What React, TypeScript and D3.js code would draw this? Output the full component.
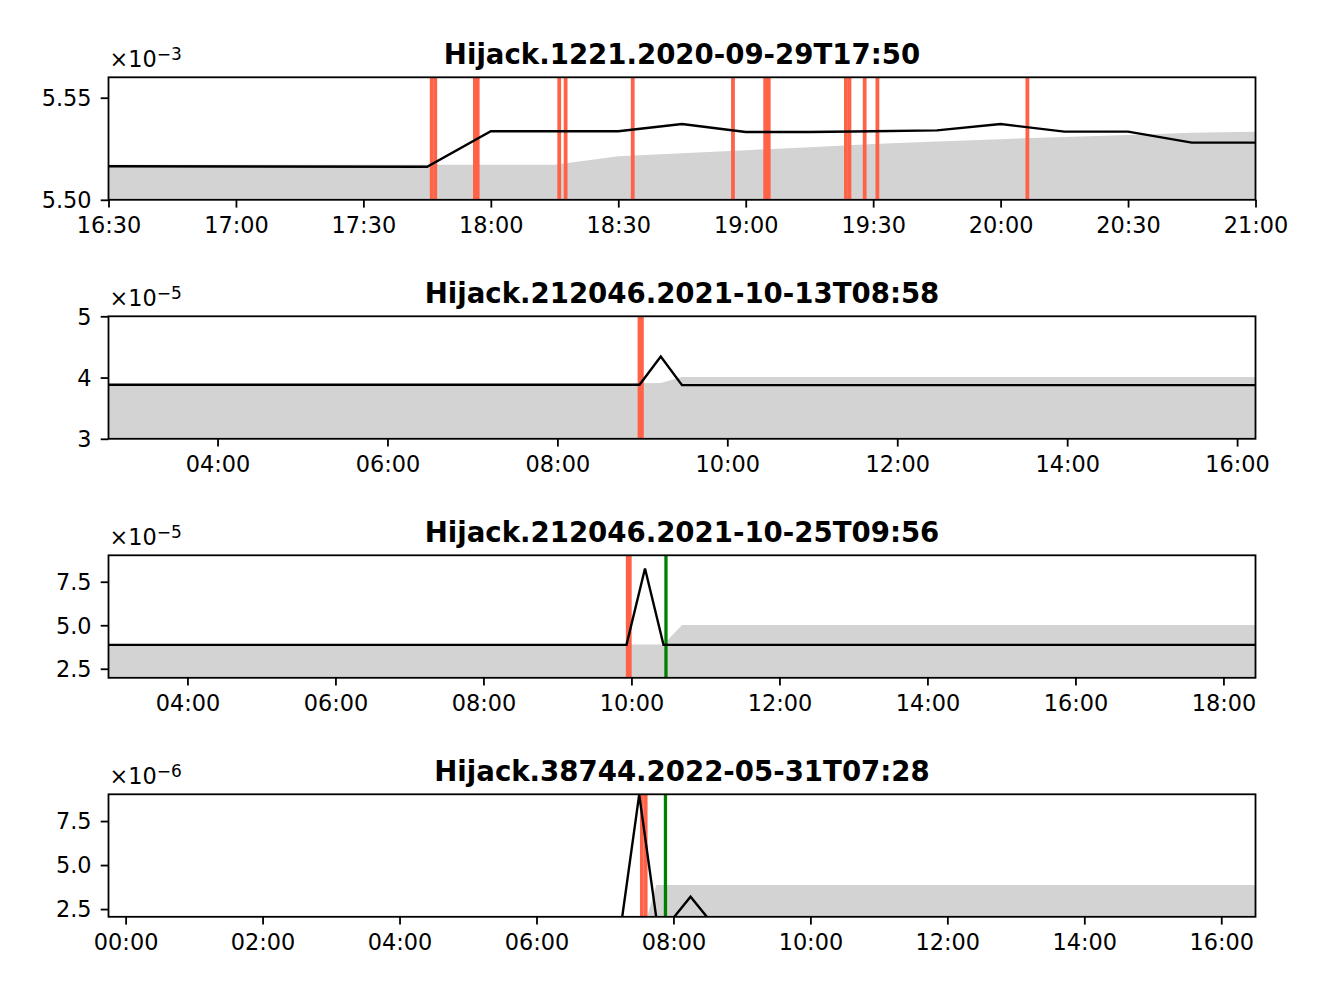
import * as d3 from "d3";
import { useEffect, useRef } from "react";

const W = 1329;
const H = 997;

// ---- panel 1 ----
const p1Title = "Hijack.1221.2020-09-29T17:50";
const p1Start = "2020-09-29T16:30";
const p1End = "21:00";
const p1YDomain = [5.5, 5.56];
const p1YTicks = [5.5, 5.55];
const p1YLabels = ["5.50", "5.55"];
const p1Exp = "−3";
const p1Line: [string, number][] = [
  ["16:30", 5.5164], ["17:45", 5.5162], ["18:00", 5.5336], ["18:30", 5.5336],
  ["18:45", 5.5371], ["19:00", 5.5332], ["19:15", 5.5332], ["19:30", 5.5336],
  ["19:45", 5.534], ["20:00", 5.5371], ["20:15", 5.5334], ["20:30", 5.5334],
  ["20:45", 5.528], ["21:00", 5.528],
];
const p1Band: [string, number][] = [
  ["16:30", 5.5172], ["18:15", 5.5172], ["18:30", 5.5213], ["18:45", 5.5228],
  ["19:00", 5.5243], ["19:15", 5.5258], ["19:30", 5.5273], ["19:45", 5.5286],
  ["20:00", 5.5297], ["20:15", 5.5308], ["20:30", 5.5318], ["20:45", 5.5328],
  ["21:00", 5.5333],
];
const p1Red = [
  "17:46:05", "17:46:55", "17:56:15", "17:56:55", "18:16:06", "18:17:36",
  "18:33:24", "18:57:00", "19:04:35", "19:05:25", "19:23:35", "19:24:25",
  "19:28:00", "19:31:00", "20:06:18",
];
const p1Green: string[] = [];

// ---- panel 2 ----
const p2Title = "Hijack.212046.2021-10-13T08:58";
const p2Start = "2021-10-13T02:43";
const p2End = "16:13";
const p2YDomain = [3, 5];
const p2YTicks = [3, 4, 5];
const p2YLabels = ["3", "4", "5"];
const p2Exp = "−5";
const p2Line: [string, number][] = [
  ["02:43", 3.882], ["08:58", 3.882], ["09:13", 4.345], ["09:28", 3.876], ["16:13", 3.876],
];
const p2Band: [string, number][] = [
  ["02:43", 3.875], ["08:43", 3.875], ["08:58", 3.905], ["09:13", 3.91],
  ["09:28", 4.01], ["16:13", 4.01],
];
const p2Red = ["08:58:00", "08:59:40"];
const p2Green: string[] = [];

// ---- panel 3 ----
const p3Title = "Hijack.212046.2021-10-25T09:56";
const p3Start = "2021-10-25T02:56";
const p3End = "18:26";
const p3YDomain = [1.98, 9.02];
const p3YTicks = [2.5, 5, 7.5];
const p3YLabels = ["2.5", "5.0", "7.5"];
const p3Exp = "−5";
const p3Line: [string, number][] = [
  ["02:56", 3.874], ["09:56", 3.874], ["10:11", 8.26], ["10:26", 3.874], ["18:26", 3.874],
];
const p3Band: [string, number][] = [
  ["02:56", 3.9], ["10:26", 3.9], ["10:41", 5.02], ["18:26", 5.02],
];
const p3Red = ["09:57:00", "09:58:40"];
const p3Green = ["10:28:00"];

// ---- panel 4 ----
const p4Title = "Hijack.38744.2022-05-31T07:28";
const p4Start = "2022-05-30T23:45";
const p4End = "16:30";
const p4YDomain = [2.06, 9.02];
const p4YTicks = [2.5, 5, 7.5];
const p4YLabels = ["2.5", "5.0", "7.5"];
const p4Exp = "−6";
const p4Line: [string, number][] = [
  ["23:45", 2.0], ["07:15", 2.0], ["07:30", 9.0], ["07:45", 2.0], ["08:00", 2.0],
  ["08:15", 3.2], ["08:30", 2.0], ["16:30", 2.0],
];
const p4Band: [string, number][] = [
  ["23:45", 0], ["07:15", 0], ["07:30", 0.5], ["07:45", 3.86], ["16:30", 3.86],
];
const p4Red = ["07:32:20", "07:35:40"];
const p4Green = ["07:53:00"];

const panels = [
  { title: p1Title, start: p1Start, end: p1End, yDomain: p1YDomain, yTicks: p1YTicks, yLabels: p1YLabels, exp: p1Exp, line: p1Line, band: p1Band, red: p1Red, green: p1Green, every: d3.utcMinute.every(30) },
  { title: p2Title, start: p2Start, end: p2End, yDomain: p2YDomain, yTicks: p2YTicks, yLabels: p2YLabels, exp: p2Exp, line: p2Line, band: p2Band, red: p2Red, green: p2Green, every: d3.utcHour.every(2) },
  { title: p3Title, start: p3Start, end: p3End, yDomain: p3YDomain, yTicks: p3YTicks, yLabels: p3YLabels, exp: p3Exp, line: p3Line, band: p3Band, red: p3Red, green: p3Green, every: d3.utcHour.every(2) },
  { title: p4Title, start: p4Start, end: p4End, yDomain: p4YDomain, yTicks: p4YTicks, yLabels: p4YLabels, exp: p4Exp, line: p4Line, band: p4Band, red: p4Red, green: p4Green, every: d3.utcHour.every(2) },
];

// times are given as time of day after the panel start; wrap past midnight
const toDate = (start: string, hm: string) => {
  const s = new Date(start + ":00Z");
  const hms = hm.length === 5 ? hm + ":00" : hm;
  let d = new Date(`${start.slice(0, 10)}T${hms}Z`);
  if (d < s) d = new Date(d.getTime() + 864e5);
  return d;
};

const FONT = "DejaVu Sans, sans-serif";

const App = () => {
  const svgRef = useRef<SVGSVGElement>(null);

  useEffect(() => {
    const svg = d3.select(svgRef.current);
    svg.selectAll("*").remove();

    const left = 108.5;
    const right = 1255.5;
    const top0 = 77.3;
    const step = 239;
    const h = 122.5;

    const defs = svg.append("defs");

    panels.forEach((p, i) => {
      const top = top0 + i * step;
      const g = svg.append("g").attr("transform", `translate(0, ${top})`);

      const x = d3
        .scaleUtc()
        .domain([toDate(p.start, p.start.slice(11)), toDate(p.start, p.end)])
        .range([left, right]);
      const y = d3.scaleLinear().domain(p.yDomain).range([h, 0]);

      defs
        .append("clipPath")
        .attr("id", `clip${i}`)
        .append("rect")
        .attr("x", left)
        .attr("y", 0)
        .attr("width", right - left)
        .attr("height", h);

      const plot = g.append("g").attr("clip-path", `url(#clip${i})`);

      // grey band under the threshold
      const area = d3
        .area<[string, number]>()
        .x((d) => x(toDate(p.start, d[0])))
        .y0(h)
        .y1((d) => y(d[1]));
      plot.append("path").datum(p.band).attr("d", area).attr("fill", "#d3d3d3");

      // red event lines
      plot
        .selectAll("line.red")
        .data(p.red)
        .enter()
        .append("line")
        .attr("class", "red")
        .attr("x1", (d) => x(toDate(p.start, d)))
        .attr("x2", (d) => x(toDate(p.start, d)))
        .attr("y1", 0)
        .attr("y2", h)
        .attr("stroke", "#ff6347")
        .attr("stroke-width", 3.8);

      // green line
      plot
        .selectAll("line.green")
        .data(p.green)
        .enter()
        .append("line")
        .attr("class", "green")
        .attr("x1", (d) => x(toDate(p.start, d)))
        .attr("x2", (d) => x(toDate(p.start, d)))
        .attr("y1", 0)
        .attr("y2", h)
        .attr("stroke", "#008000")
        .attr("stroke-width", 3.3);

      // black series
      const line = d3
        .line<[string, number]>()
        .x((d) => x(toDate(p.start, d[0])))
        .y((d) => y(d[1]));
      plot
        .append("path")
        .datum(p.line)
        .attr("d", line)
        .attr("fill", "none")
        .attr("stroke", "black")
        .attr("stroke-width", 2.4)
        .attr("stroke-linejoin", "miter");

      // x axis
      const xAxis = g
        .append("g")
        .attr("transform", `translate(0, ${h})`)
        .call(
          d3
            .axisBottom(x)
            .ticks(p.every)
            .tickFormat((d) => d3.utcFormat("%H:%M")(d as Date))
            .tickSize(7.8)
            .tickPadding(9.4)
        );
      xAxis.select(".domain").remove();
      xAxis.selectAll("line").attr("stroke-width", 1.8);
      xAxis.selectAll("text").attr("font-size", "22.4px").attr("font-family", FONT).attr("fill", "black");

      // y axis
      const yAxis = g
        .append("g")
        .attr("transform", `translate(${left}, 0)`)
        .call(
          d3
            .axisLeft(y)
            .tickValues(p.yTicks)
            .tickFormat((d, k) => p.yLabels[k])
            .tickSize(7.8)
            .tickPadding(9.2)
        );
      yAxis.select(".domain").remove();
      yAxis.selectAll("line").attr("stroke-width", 1.8);
      yAxis
        .selectAll("text")
        .attr("font-size", "22.4px")
        .attr("font-family", FONT)
        .attr("fill", "black")
        .attr("dy", "0.35em");

      // frame
      g.append("rect")
        .attr("x", left)
        .attr("y", 0)
        .attr("width", right - left)
        .attr("height", h)
        .attr("fill", "none")
        .attr("stroke", "black")
        .attr("stroke-width", 1.8);

      // title
      g.append("text")
        .attr("x", (left + right) / 2)
        .attr("y", -13.3)
        .attr("text-anchor", "middle")
        .attr("font-family", FONT)
        .attr("font-weight", "bold")
        .attr("font-size", "27.6px")
        .text(p.title);

      // offset text ×10^exp
      const off = g
        .append("text")
        .attr("x", left + 1)
        .attr("y", -10)
        .attr("font-family", FONT)
        .attr("font-size", "22.4px");
      off.append("tspan").text("×10");
      off.append("tspan").attr("dy", -7.5).attr("font-size", "17px").text(p.exp);
    });
  }, []);

  return (
    <svg
      ref={svgRef}
      width={W}
      height={H}
      style={{ position: "absolute", left: 0, top: 0, background: "white" }}
    ></svg>
  );
};

export default App;
